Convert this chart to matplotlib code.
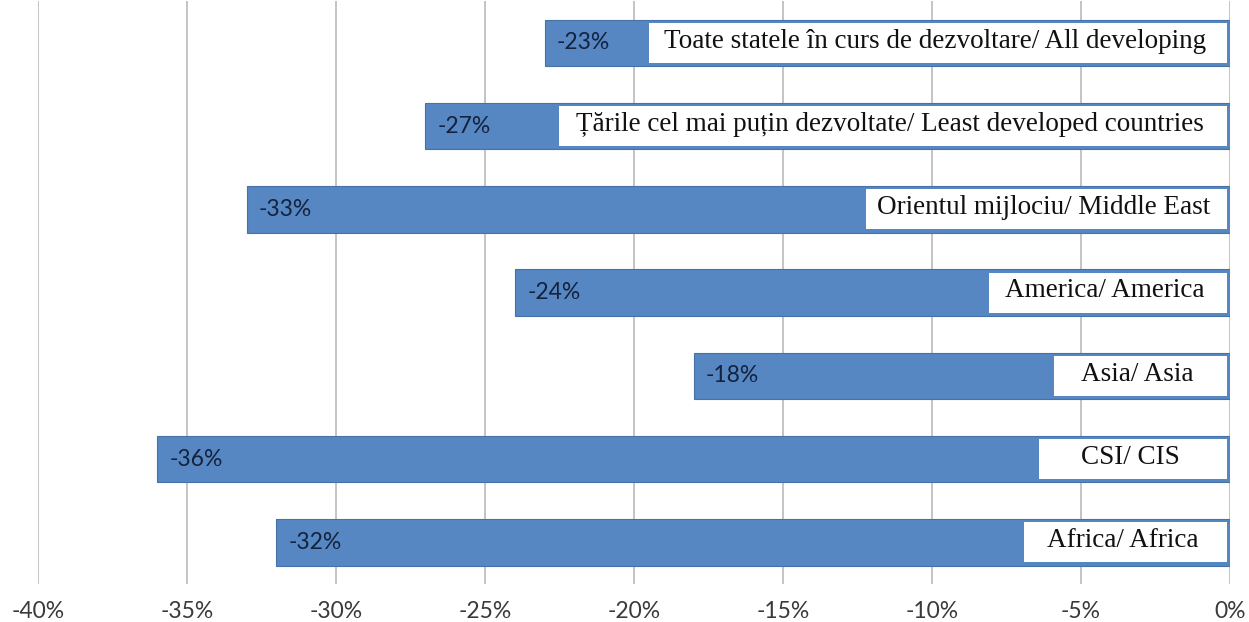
import matplotlib.pyplot as plt
from matplotlib.patches import Rectangle
from matplotlib.ticker import FuncFormatter

# data, top to bottom as in the chart
regions = [
    "Toate statele în curs de dezvoltare/ All developing",
    "Țările cel mai puțin dezvoltate/ Least developed countries",
    "Orientul mijlociu/ Middle East",
    "America/ America",
    "Asia/ Asia",
    "CSI/ CIS",
    "Africa/ Africa",
]
change_pct = [-23, -27, -33, -24, -18, -36, -32]

# width of the white name boxes, in % units (layout only)
box_widths = [19.4, 22.4, 12.1, 8.0, 5.8, 6.3, 6.8]

bar_color = "#5687c2"
edge_color = "#4672a8"

fig = plt.figure(figsize=(12.49, 6.22), dpi=100)
ax = fig.add_axes([0.0304, 0.061, 0.9544, 0.937])

ypos = list(range(len(regions)))
ax.barh(ypos, change_pct, height=0.56, color=bar_color,
        edgecolor=edge_color, linewidth=0.8, zorder=2)

for y, val, name, bw in zip(ypos, change_pct, regions, box_widths):
    ax.text(val + 0.42, y, f"{val}%", ha="left", va="center",
            fontsize=16.5, family="Lato", color="#15223d", zorder=4)
    box = Rectangle((-0.1 - bw, y - 0.24), bw, 0.48,
                    facecolor="white", edgecolor="none", zorder=3)
    ax.add_patch(box)
    ax.text(-0.1 - bw / 2 - 0.1, y - 0.02, name, ha="center", va="center",
            fontsize=19.5, family="Liberation Serif", color="#111111", zorder=4)

ax.set_xlim(-40, 0)
ax.set_ylim(len(regions) - 0.5, -0.5)
ax.set_xticks(range(-40, 1, 5))
ax.xaxis.set_major_formatter(FuncFormatter(lambda v, p: f"{int(v)}%"))
ax.set_yticks([])
ax.tick_params(axis="x", length=0, pad=12, labelsize=16.5, labelcolor="#3a3a3a")
for lbl in ax.get_xticklabels():
    lbl.set_family("Lato")

ax.grid(axis="x", color="#c4c4c4", linewidth=1.4, zorder=0)
ax.set_axisbelow(True)
for s in ax.spines.values():
    s.set_visible(False)

fig.savefig("out.png", dpi=100)
